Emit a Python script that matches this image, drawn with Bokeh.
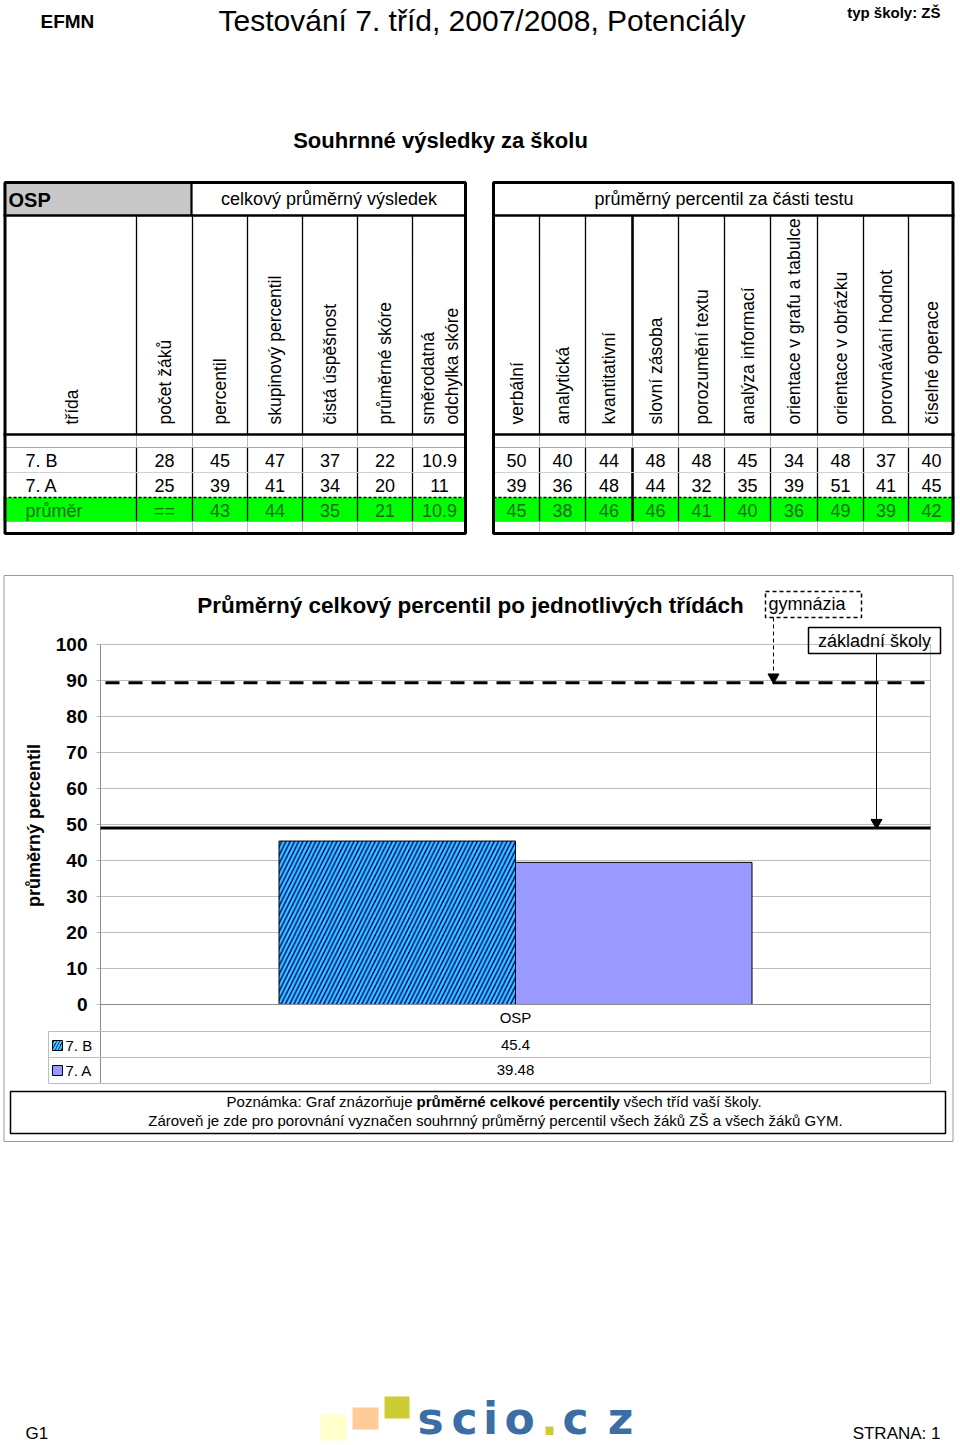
import math
from bokeh.plotting import figure
from bokeh.models import Range1d
from bokeh.core.properties import value
from bokeh.embed import file_html
from bokeh.resources import INLINE

# ---------------- data ----------------
row_labels = ["7. B", "7. A", "průměr"]
left_headers = ["třída", "počet žáků", "percentil", "skupinový percentil",
                "čistá úspěšnost", "průměrné skóre", "směrodatná\nodchylka skóre"]
pocet_zaku = ["28", "25", "=="]
percentil = [45, 39, 43]
skupinovy_percentil = [47, 41, 44]
cista_uspesnost = [37, 34, 35]
prumerne_skore = [22, 20, 21]
smerodatna_odchylka = [10.9, 11, 10.9]

right_headers = ["verbální", "analytická", "kvantitativní", "slovní zásoba",
                 "porozumění textu", "analýza informací", "orientace v grafu a tabulce",
                 "orientace v obrázku", "porovnávání hodnot", "číselné operace"]
verbalni = [50, 39, 45]
analyticka = [40, 36, 38]
kvantitativni = [44, 48, 46]
slovni_zasoba = [48, 44, 46]
porozumeni_textu = [48, 32, 41]
analyza_informaci = [45, 35, 40]
orientace_graf = [34, 39, 36]
orientace_obrazek = [48, 51, 49]
porovnavani_hodnot = [37, 41, 39]
ciselne_operace = [40, 45, 42]

chart_category = "OSP"
bar_classes = ["7. B", "7. A"]
bar_values = [45.4, 39.48]
zs_average = 49.0
gym_average = 89.4
y_ticks = [0, 10, 20, 30, 40, 50, 60, 70, 80, 90, 100]

# ---------------- figure ----------------
W, H = 960, 1445
FONT = value("Liberation Sans")
p = figure(width=W, height=H, x_range=Range1d(0, W), y_range=Range1d(H, 0),
           x_axis_type=None, y_axis_type=None, output_backend="svg",
           toolbar_location=None, min_border=0)
p.outline_line_color = None
p.background_fill_color = "white"
p.border_fill_color = "white"

Y0, PX = 1004.0, 3.6   # page y of value 0, pixels per percent
p.extra_y_ranges = {"pct": Range1d(start=(Y0 - H) / PX, end=(Y0 - 0) / PX)}


def T(x, y, s, size, bold=False, align="left", baseline="middle", color="black",
      angle=0.0, font=FONT, **kw):
    p.text(x=[x], y=[y], text=[s], text_font=font, text_font_size=f"{size}px",
           text_font_style="bold" if bold else "normal", text_align=align,
           text_baseline=baseline, text_color=color, angle=angle, **kw)


def seg(x0, y0, x1, y1, color="black", w=1.0, dash="solid", **kw):
    p.segment(x0=[x0], y0=[y0], x1=[x1], y1=[y1], line_color=color,
              line_width=w, line_dash=dash, **kw)


def box(l, r, t, b, fill=None, line=None, w=1.0, dash="solid", **kw):
    p.quad(left=[l], right=[r], top=[t], bottom=[b], fill_color=fill,
           line_color=line, line_width=w, line_dash=dash, **kw)


def fmt(v):
    return str(v)


# ---------------- page header ----------------
T(40, 21, "EFMN", 19, bold=True)
T(218, 20, "Testování 7. tříd, 2007/2008, Potenciály", 30)
T(940, 12, "typ školy: ZŠ", 15, bold=True, align="right")
T(440, 140, "Souhrnné výsledky za školu", 22, bold=True, align="center")

# ---------------- tables ----------------
L = [3, 136, 192, 247, 302, 357, 412, 466]
R = [493, 539, 585, 632, 678, 724, 770, 817, 863, 908, 954]
TOP, H1, H2, RA, RB, RC, RD, BOT = 182, 215, 434, 447, 472, 497, 521, 533
ROWS_Y = [460, 485, 510]
GREEN_TXT = "#1b6b1b"

# fills
box(L[0], 191, TOP, H1, fill="#c8c8c8")
box(L[0], L[-1], RC, RD, fill="#00ff00")
box(R[0], R[-1], RC, RD, fill="#00ff00")

# vertical dividers
for edges, thick in ((L, ()), (R, (632,))):
    for x in edges[1:-1]:
        w = 2.6 if x in thick else 1.3
        seg(x, H1, x, H2, w=w)
        seg(x, H2, x, RA, color="#bdbdbd", w=1)
        seg(x, RA, x, RD, w=w)
        seg(x, RD, x, BOT, color="#bdbdbd", w=1)
seg(191, TOP, 191, H1, w=2.2)

# horizontal lines
for x0, x1 in ((L[0], L[-1]), (R[0], R[-1])):
    seg(x0, H1, x1, H1, w=2.6)
    seg(x0, H2, x1, H2, w=2.6)
    seg(x0, RA, x1, RA, color="#a8a8a8", w=1)
    seg(x0, RB, x1, RB, color="#d0d0d0", w=1)
    seg(x0, RC, x1, RC, color="black", w=1.4, dash="3 2")
    seg(x0, RD, x1, RD, color="#a8a8a8", w=1)

# outer borders
box(L[0] + 1.5, L[-1] - 1, TOP, BOT, line="black", w=3)
box(R[0], R[-1] - 1.5, TOP, BOT, line="black", w=3)

# header texts
T(8, 199, "OSP", 20, bold=True)
T((191 + L[-1]) / 2, 198, "celkový průměrný výsledek", 18, align="center")
T((R[0] + R[-1]) / 2, 198, "průměrný percentil za části testu", 18, align="center")

for i, h in enumerate(left_headers):
    cx = (L[i] + L[i + 1]) / 2 + (2 if i == 0 else 0)
    T(cx, 424, h, 17.5, angle=math.pi / 2, align="left", baseline="middle")
for i, h in enumerate(right_headers):
    cx = (R[i] + R[i + 1]) / 2
    T(cx, 424, h, 17.5, angle=math.pi / 2, align="left", baseline="middle")

# data rows
left_cols = [pocet_zaku, percentil, skupinovy_percentil, cista_uspesnost,
             prumerne_skore, smerodatna_odchylka]
right_cols = [verbalni, analyticka, kvantitativni, slovni_zasoba, porozumeni_textu,
              analyza_informaci, orientace_graf, orientace_obrazek,
              porovnavani_hodnot, ciselne_operace]
for r, lab in enumerate(row_labels):
    col = GREEN_TXT if r == 2 else "black"
    T(25, ROWS_Y[r], lab, 18, color=col)
    for j, c in enumerate(left_cols):
        T((L[j + 1] + L[j + 2]) / 2, ROWS_Y[r], fmt(c[r]), 18, align="center", color=col)
    for j, c in enumerate(right_cols):
        T((R[j] + R[j + 1]) / 2, ROWS_Y[r], fmt(c[r]), 18, align="center", color=col)

# ---------------- chart section ----------------
box(3.5, 952.5, 575, 1141, line="#9a9a9a", w=1)
T(470, 605, "Průměrný celkový percentil po jednotlivých třídách", 22.5, bold=True, align="center")

PL, PR = 100, 930
# gridlines + ticks
p.segment(x0=[96] * len(y_ticks), x1=[PR] * len(y_ticks), y0=y_ticks, y1=y_ticks,
          line_color="#bdbdbd", line_width=1, y_range_name="pct")
p.text(x=[87] * len(y_ticks), y=y_ticks, text=[str(t) for t in y_ticks], text_font=FONT,
       text_font_size="19px", text_font_style="bold", text_align="right",
       text_baseline="middle", y_range_name="pct")
T(33, 825, "průměrný percentil", 18, bold=True, align="center", angle=math.pi / 2)

# axis / table frame
seg(PL, 644, PL, 1083, color="#8c8c8c", w=1)
seg(PR, 644, PR, 1083, color="#bdbdbd", w=1)
for yy in (1031, 1057, 1083):
    seg(48, yy, PR, yy, color="#bdbdbd", w=1)
seg(48, 1031, 48, 1083, color="#bdbdbd", w=1)

# bars
cat_center = (PL + PR) / 2
bw = 236.5
lefts = [cat_center - bw, cat_center]
rights = [cat_center, cat_center + bw]
p.quad(left=[lefts[0]], right=[rights[0]], bottom=[0], top=[bar_values[0]],
       fill_color="#000080", hatch_pattern="/", hatch_color="#33ccff",
       hatch_scale=8.5, hatch_weight=2.4, line_color="black", line_width=1, y_range_name="pct")
p.quad(left=[lefts[1]], right=[rights[1]], bottom=[0], top=[bar_values[1]],
       fill_color="#9999ff", line_color="black", line_width=1, y_range_name="pct")
seg(PL, 0, PR, 0, color="#8c8c8c", w=1, y_range_name="pct")

# reference lines
seg(PL, zs_average, PR, zs_average, color="black", w=3, y_range_name="pct")
seg(PL + 5, gym_average, PR, gym_average, color="black", w=3, dash="14 9", y_range_name="pct")

# label boxes + arrows
box(765, 861, 591, 617, line="black", w=1.5, dash="4 3")
T(768, 603, "gymnázia", 18)
box(808, 940, 627, 653, line="black", w=1.5)
T(874, 640, "základní školy", 18, align="center")

seg(773, (Y0 - 617) / PX, 773, gym_average + 9 / PX, w=1, dash="4 3", y_range_name="pct")
p.scatter(x=[773], y=[gym_average + 5.5 / PX], marker="inverted_triangle", size=11,
          fill_color="black", line_color="black", y_range_name="pct")
seg(876, (Y0 - 653) / PX, 876, zs_average + 9 / PX, w=1, y_range_name="pct")
p.scatter(x=[876], y=[zs_average + 5.5 / PX], marker="inverted_triangle", size=11,
          fill_color="black", line_color="black", y_range_name="pct")

# category + data table under chart
T(cat_center, 1017, chart_category, 15, align="center")
legend_y = [1045, 1070]
for i, (cls, v) in enumerate(zip(bar_classes, bar_values)):
    yy = legend_y[i]
    if i == 0:
        box(52, 62, yy - 5, yy + 5, fill="#000080", line="black", w=1,
            hatch_pattern="/", hatch_color="#33ccff", hatch_scale=6, hatch_weight=2)
    else:
        box(52, 62, yy - 5, yy + 5, fill="#9999ff", line="black", w=1)
    T(65, yy, cls, 15)
    T(cat_center, yy - 1, fmt(v), 15, align="center")

# note box
box(10, 945, 1091, 1133, line="black", w=1.5)
T(412, 1101, "Poznámka: Graf znázorňuje", 15, align="right")
T(416, 1101, "průměrné celkové percentily", 15, bold=True)
T(623, 1101, "všech tříd vaší školy.", 15)
T(495, 1120, "Zároveň je zde pro porovnání vyznačen souhrnný průměrný percentil všech žáků ZŠ a všech žáků GYM.",
  15, align="center")

# ---------------- footer ----------------
T(25, 1433, "G1", 17)
T(940, 1433, "STRANA: 1", 17, align="right")
box(320, 346, 1414, 1440, fill="#ffffcc")
box(352, 378, 1407, 1429, fill="#ffcc99")
box(384, 409, 1396, 1418, fill="#cccc33")
logo_font = value("DejaVu Sans")
for ch, cx, colr in (("s", 430, "#3a6ea5"), ("c", 464, "#3a6ea5"), ("i", 490, "#3a6ea5"),
                     ("o", 519, "#3a6ea5"), (".", 549, "#cccc33"), ("c", 575, "#3a6ea5"),
                     ("z", 620, "#3a6ea5")):
    T(cx, 1418, ch, 44, bold=True, align="center", baseline="middle", color=colr, font=logo_font)

open("out.html", "w").write(file_html(p, INLINE))
